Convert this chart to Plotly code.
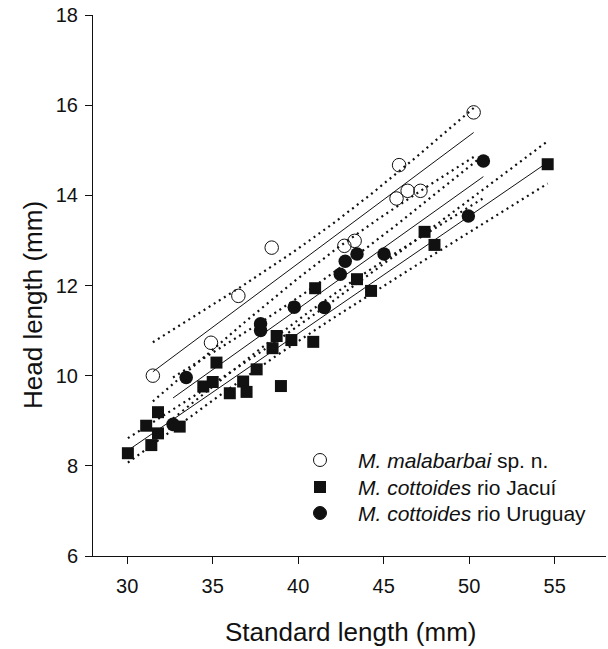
import numpy as np
import plotly.graph_objects as go

# ---- data ----
mal_sl = [31.5, 34.9, 36.5, 38.45, 42.7, 43.3, 45.75, 45.9, 46.4, 47.15, 50.26]
mal_hl = [10.0, 10.73, 11.77, 12.84, 12.88, 12.99, 13.93, 14.67, 14.10, 14.10, 15.84]

jac_sl = [30.04, 31.11, 31.41, 31.8, 31.8, 33.07, 34.45, 35.0, 35.22, 36.0, 36.78, 36.98,
          37.57, 38.5, 38.74, 38.99, 39.6, 40.88, 40.99, 43.44, 44.26, 47.39, 47.97, 54.59]
jac_hl = [8.28, 8.89, 8.46, 9.19, 8.72, 8.87, 9.76, 9.86, 10.29, 9.61, 9.87, 9.64,
          10.14, 10.61, 10.88, 9.77, 10.79, 10.75, 11.94, 12.14, 11.88, 13.19, 12.90, 14.69]

uru_sl = [32.68, 33.45, 37.8, 37.8, 39.77, 41.53, 42.46, 42.75, 43.44, 45.02, 49.95, 50.83]
uru_hl = [8.92, 9.96, 11.0, 11.15, 11.52, 11.51, 12.25, 12.54, 12.70, 12.70, 13.54, 14.76]

legend_labels = ["<i>M. malabarbai</i> sp. n.",
                 "<i>M. cottoides</i> rio Jacuí",
                 "<i>M. cottoides</i> rio Uruguay"]
x_title = "Standard length (mm)"
y_title = "Head length (mm)"
x_ticks = [30, 35, 40, 45, 50, 55]
y_ticks = [6, 8, 10, 12, 14, 16, 18]

# two-sided 95% t quantiles
T95 = {8: 2.306, 9: 2.262, 10: 2.228, 11: 2.201, 12: 2.179, 20: 2.086,
       21: 2.080, 22: 2.074, 23: 2.069, 24: 2.064, 25: 2.060}

FONT = "Liberation Sans, Arial, sans-serif"
INK = "#111111"


def regression(xs, ys):
    x = np.asarray(xs, float)
    y = np.asarray(ys, float)
    n = len(x)
    b1, b0 = np.polyfit(x, y, 1)
    resid = y - (b0 + b1 * x)
    s = np.sqrt(np.sum(resid ** 2) / (n - 2))
    xbar = x.mean()
    sxx = np.sum((x - xbar) ** 2)
    grid = np.linspace(x.min(), x.max(), 100)
    fit = b0 + b1 * grid
    half = T95[n - 2] * s * np.sqrt(1.0 / n + (grid - xbar) ** 2 / sxx)
    return grid, fit, fit - half, fit + half


fig = go.Figure()

for xs, ys in [(mal_sl, mal_hl), (jac_sl, jac_hl), (uru_sl, uru_hl)]:
    g, f, lo, hi = regression(xs, ys)
    fig.add_trace(go.Scatter(x=g, y=f, mode="lines", line=dict(color=INK, width=1),
                             showlegend=False, hoverinfo="skip"))
    for band in (lo, hi):
        fig.add_trace(go.Scatter(x=g, y=band, mode="lines",
                                 line=dict(color=INK, width=2.2, dash="2px,4px"),
                                 showlegend=False, hoverinfo="skip"))

fig.add_trace(go.Scatter(x=jac_sl, y=jac_hl, mode="markers", showlegend=False,
                         marker=dict(symbol="square", size=12, color=INK,
                                     line=dict(width=0))))
fig.add_trace(go.Scatter(x=uru_sl, y=uru_hl, mode="markers", showlegend=False,
                         marker=dict(symbol="circle", size=13.5, color=INK,
                                     line=dict(width=0))))
fig.add_trace(go.Scatter(x=mal_sl, y=mal_hl, mode="markers", showlegend=False,
                         marker=dict(symbol="circle-open", size=13.5, color=INK,
                                     line=dict(width=1, color=INK))))

# full-window figure (page body margin removed by post_script below)
W, H = 608, 649
ML, MR, MT, MB = 93, 2, 15, 93
pw, ph = W - ML - MR, H - MT - MB


def page_to_paper(px, py):
    return (px - ML) / pw, 1 - (py - MT) / ph


rows_y = [460, 487, 513]
sym_x = 320
text_x = 356
shapes = []
annotations = []
for i, (lab, ry) in enumerate(zip(legend_labels, rows_y)):
    sx, sy = page_to_paper(sym_x, ry)
    tx, ty = page_to_paper(text_x, ry)
    if i == 1:
        shapes.append(dict(type="rect", xref="paper", yref="paper", xsizemode="pixel",
                           ysizemode="pixel", xanchor=sx, yanchor=sy,
                           x0=-6, x1=6, y0=-6, y1=6, fillcolor=INK, line=dict(width=0)))
    else:
        shapes.append(dict(type="circle", xref="paper", yref="paper", xsizemode="pixel",
                           ysizemode="pixel", xanchor=sx, yanchor=sy,
                           x0=-6.5, x1=6.5, y0=-6.5, y1=6.5,
                           fillcolor=(INK if i == 2 else "rgba(0,0,0,0)"),
                           line=dict(color=INK, width=1)))
    annotations.append(dict(text=lab, xref="paper", yref="paper", x=tx, y=ty,
                            xanchor="left", yanchor="middle", showarrow=False,
                            font=dict(family=FONT, size=21, color=INK)))

# axis titles
xtx, xty = page_to_paper(350, 632)
annotations.append(dict(text=x_title, xref="paper", yref="paper", x=xtx, y=xty,
                        xanchor="center", yanchor="middle", showarrow=False,
                        font=dict(family=FONT, size=26, color=INK)))
ytx, yty = page_to_paper(33, 305)
annotations.append(dict(text=y_title, xref="paper", yref="paper", x=ytx, y=yty,
                        xanchor="center", yanchor="middle", showarrow=False,
                        textangle=-90,
                        font=dict(family=FONT, size=26, color=INK)))

fig.update_layout(
    width=W, height=H,
    margin=dict(l=ML, r=MR, t=MT, b=MB, autoexpand=False),
    paper_bgcolor="white", plot_bgcolor="white",
    font=dict(family=FONT, color=INK),
    showlegend=False,
    hovermode=False,
    shapes=shapes,
    annotations=annotations,
    xaxis=dict(range=[28, 58], tickvals=x_ticks, ticks="outside", ticklen=7,
               tickcolor=INK, showline=True, linecolor=INK, linewidth=1,
               showgrid=False, zeroline=False, tickfont=dict(size=20),
               ticklabelstandoff=5, ticklabeloverflow="allow"),
    yaxis=dict(range=[6, 18], tickvals=y_ticks, ticks="outside", ticklen=7,
               tickcolor=INK, showline=True, linecolor=INK, linewidth=1,
               showgrid=False, zeroline=False, tickfont=dict(size=20),
               ticklabelstandoff=3, ticklabeloverflow="allow"),
)

fig.write_html(
    "out.html",
    config={"displayModeBar": False, "staticPlot": True},
    post_script="document.body.style.margin='0';document.body.style.overflow='hidden';",
)
